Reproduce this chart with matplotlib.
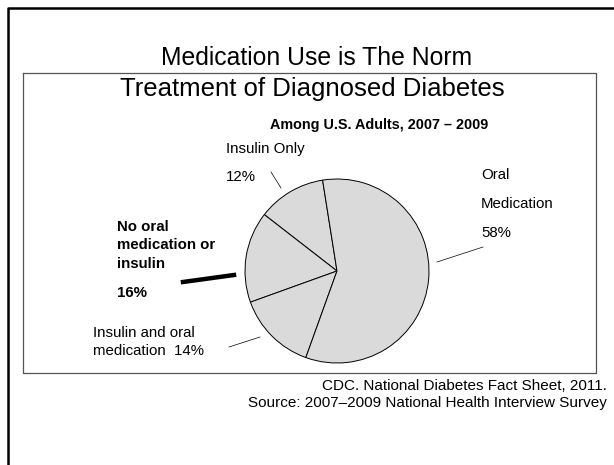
import matplotlib
matplotlib.use('Agg')
import matplotlib.pyplot as plt

plt.rcParams['font.family'] = ['Liberation Sans', 'DejaVu Sans']

# donnees du graphique
categories = ['Insulin Only', 'No oral medication or insulin',
              'Insulin and oral medication', 'Oral Medication']
parts = [12, 16, 14, 58]

W, H = 614, 465
fig = plt.figure(figsize=(W / 100, H / 100), dpi=100)
ax = fig.add_axes([0, 0, 1, 1])

# camembert (axe y inverse -> sens horaire en donnees = anti-horaire a l'ecran)
ax.pie(parts, center=(337, 271), radius=92, startangle=-99, counterclock=False,
       colors=['#dadada'] * len(parts),
       wedgeprops=dict(edgecolor='black', linewidth=0.7))

ax.set_xlim(0, W)
ax.set_ylim(H, 0)
ax.set_aspect('auto')
ax.axis('off')

# cadres
ax.plot([8, 8, W], [H, 8, 8], color='black', lw=1.8, solid_capstyle='projecting')
ax.plot([22.5, 22.5, 595.5, 595.5, 22.5], [73, 373, 373, 73, 73],
        color='#555555', lw=0.9)

fs = 10.8
# titres
ax.text(317, 58, 'Medication Use is The Norm', fontsize=17.8, ha='center', va='center')
ax.text(312, 89, 'Treatment of Diagnosed Diabetes', fontsize=18.5, ha='center', va='center')
ax.text(270, 125, 'Among U.S. Adults, 2007 \u2013 2009', fontsize=10.4,
        fontweight='bold', ha='left', va='center')

# etiquettes
ax.text(226, 149, 'Insulin Only', fontsize=fs, va='center')
ax.text(226, 177, '12%', fontsize=fs, va='center')
ax.plot([271, 281], [172, 188], color='black', lw=0.5)

ax.text(481, 175, 'Oral', fontsize=fs, va='center')
ax.text(481, 204, 'Medication', fontsize=fs, va='center')
ax.text(481, 233, '58%', fontsize=fs, va='center')
ax.plot([437, 483], [262, 247], color='black', lw=0.5)

for y, s in zip([227, 245, 264, 293], ['No oral', 'medication or', 'insulin', '16%']):
    ax.text(117, y, s, fontsize=fs, fontweight='bold', va='center')
ax.plot([183, 234], [282, 275], color='black', lw=3.2)

ax.text(93, 333, 'Insulin and oral', fontsize=fs, va='center')
ax.text(93, 351, 'medication  14%', fontsize=fs, va='center')
ax.plot([229, 260], [347, 337], color='black', lw=0.5)

# source
ax.text(607, 386, 'CDC. National Diabetes Fact Sheet, 2011.', fontsize=11,
        ha='right', va='center')
ax.text(607, 403, 'Source: 2007\u20132009 National Health Interview Survey', fontsize=11,
        ha='right', va='center')

fig.savefig('out.png', dpi=100)
